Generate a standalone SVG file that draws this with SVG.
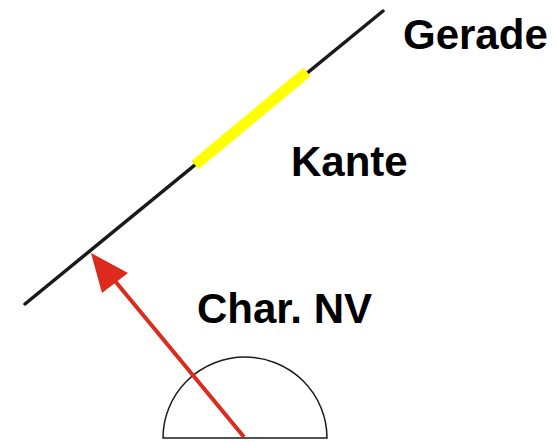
<svg xmlns="http://www.w3.org/2000/svg" width="557" height="442" viewBox="0 0 557 442">
<style>
.lbl{font-family:"Liberation Sans",Arial,sans-serif;font-weight:bold;font-size:42px;fill:#000}
</style>
<rect width="557" height="442" fill="#fff"/>
<g id="gerade">
<line x1="25" y1="304" x2="383" y2="11" stroke="#1a1a1a" stroke-width="3.5" stroke-linecap="round"/>
</g>
<g id="kante">
<line x1="195" y1="165" x2="307" y2="72" stroke="#ffff00" stroke-width="11"/>
</g>
<g id="halbkreis">
<path d="M163,438 A82,81 0 0 1 327,438 Z" fill="none" stroke="#1a1a1a" stroke-width="1.5"/>
</g>
<g id="connectors">
<line x1="244" y1="437" x2="115" y2="281" stroke="#dc2a1c" stroke-width="4"/>
<path d="M91,253 L128,273 L102,293 Z" fill="#dc2a1c"/>
</g>
<g id="labels">
<text class="lbl" x="403" y="49">Gerade</text>
<text class="lbl" x="291" y="176">Kante</text>
<text class="lbl" x="197" y="323">Char. NV</text>
</g>
</svg>
